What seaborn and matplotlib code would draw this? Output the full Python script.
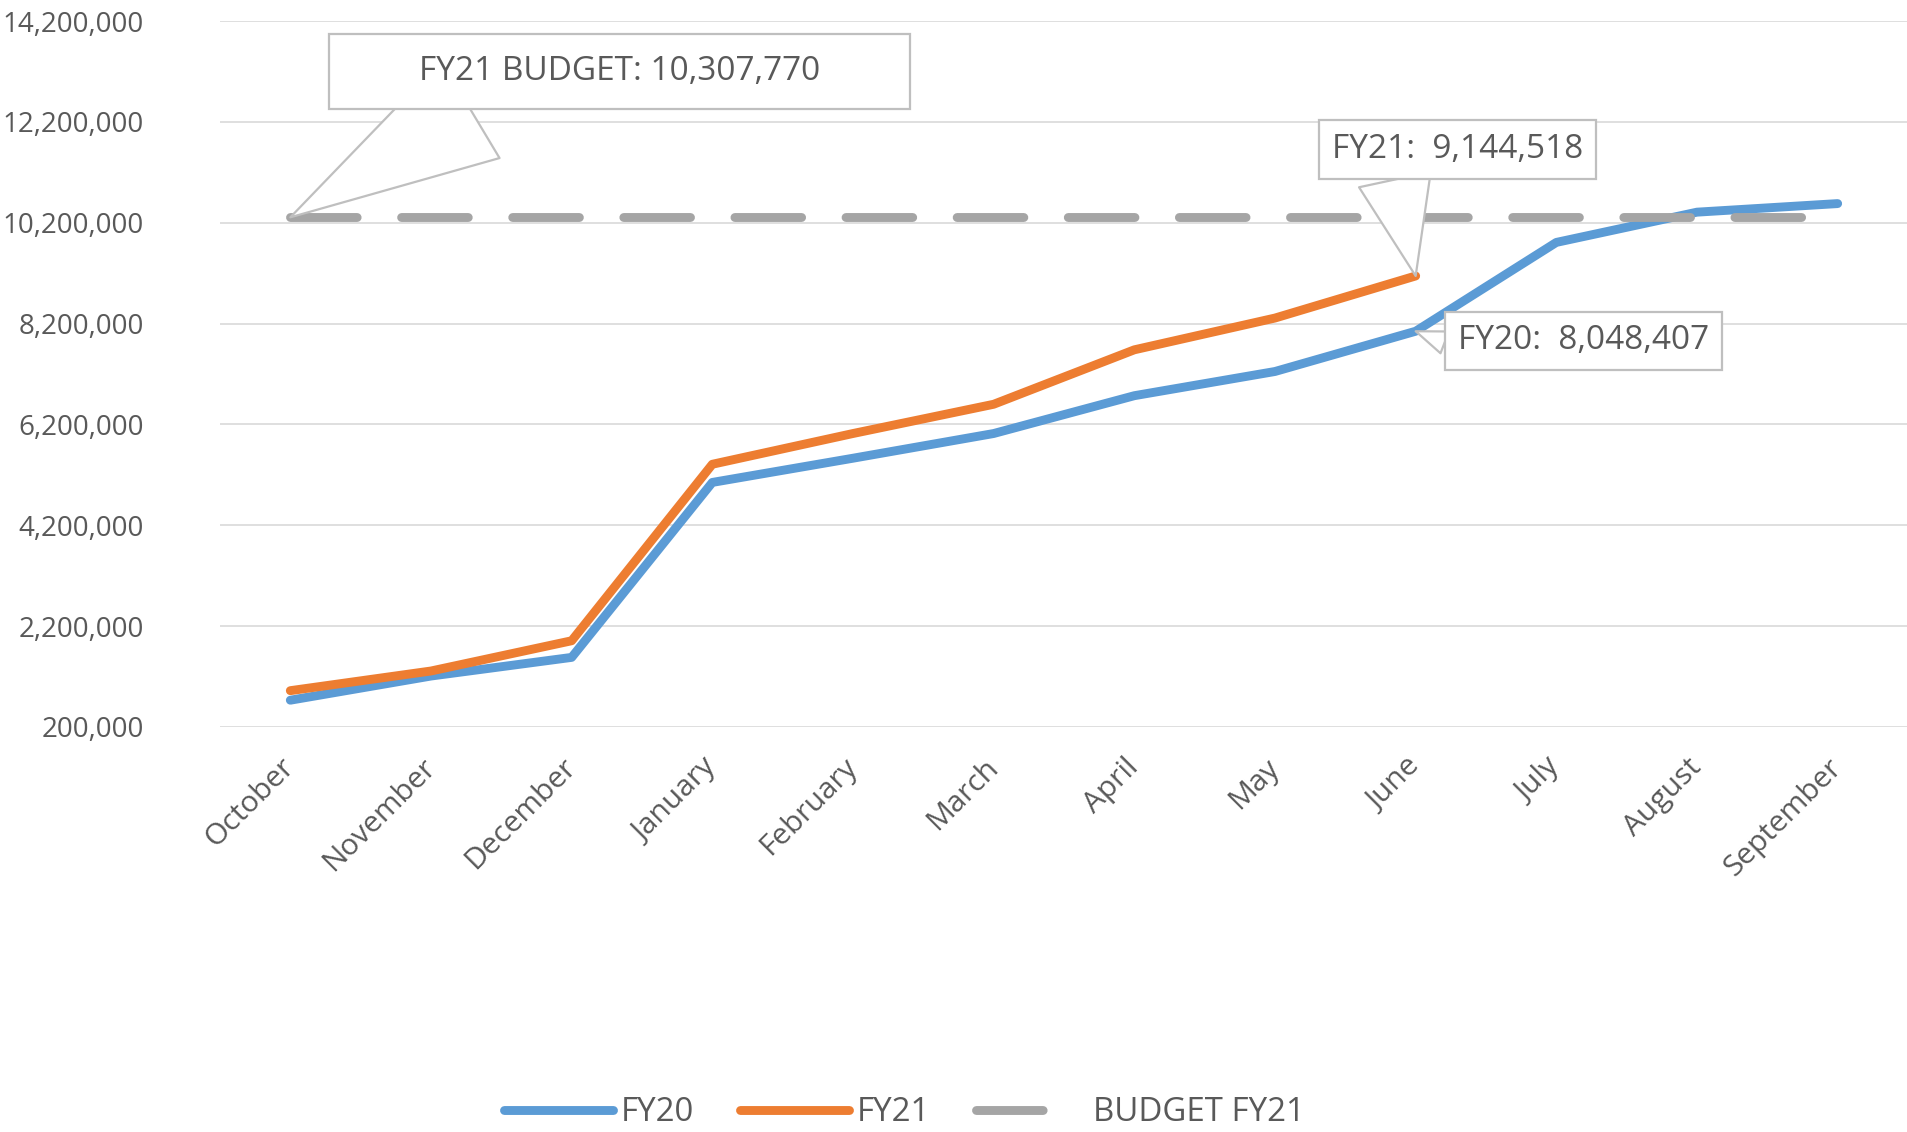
import pandas as pd
import matplotlib.pyplot as plt
import seaborn as sns

months = ['October', 'November', 'December', 'January', 'February', 'March',
          'April', 'May', 'June', 'July', 'August', 'September']
fy20 = [731000, 1210000, 1580000, 5050000, 5530000, 6020000,
        6770000, 7250000, 8048407, 9810000, 10410000, 10580000]
fy21 = [920000, 1310000, 1910000, 5410000, 6020000, 6600000,
        7680000, 8310000, 9144518]
budget_fy21 = 10307770
y_ticks = list(range(200000, 14200001, 2000000))

colors = {'FY20': '#5b9bd5', 'FY21': '#ed7d31', 'BUDGET FY21': '#a5a5a5'}
text_color = '#595959'
edge_color = '#bfbfbf'

df = pd.concat([
    pd.DataFrame({'month': months, 'value': fy20, 'series': 'FY20'}),
    pd.DataFrame({'month': months[:len(fy21)], 'value': fy21, 'series': 'FY21'}),
    pd.DataFrame({'month': months, 'value': [budget_fy21] * len(months),
                  'series': 'BUDGET FY21'}),
], ignore_index=True)

sns.set_style('white')
plt.rcParams['font.family'] = ['Open Sans', 'DejaVu Sans']

fig = plt.figure(figsize=(19.08, 11.32), dpi=100)
ax = fig.add_axes([0.1153, 0.3578, 0.8847, 0.6236])

for name in ['FY20', 'FY21', 'BUDGET FY21']:
    sns.lineplot(data=df[df['series'] == name], x='month', y='value',
                 color=colors[name], lw=6.4, label=name, ax=ax,
                 solid_capstyle='round', dash_capstyle='round')
ax.lines[-1].set_dashes([7.5, 5.0])
if ax.get_legend() is not None:
    ax.get_legend().remove()

ax.set_axisbelow(True)
ax.yaxis.grid(True, color='#d9d9d9', lw=1.2)
ax.set_xlim(-0.5, len(months) - 0.5)
ax.set_ylim(y_ticks[0], y_ticks[-1])
ax.set_yticks(y_ticks)
ax.set_yticklabels([f'{v:,}' for v in y_ticks])
ax.set_xlabel('')
ax.set_ylabel('')
sns.despine(ax=ax, left=True, bottom=True)
ax.tick_params(axis='both', length=0, labelsize=20, labelcolor=text_color)
ax.tick_params(axis='y', pad=55)
ax.tick_params(axis='x', pad=26, labelsize=21.5)
for lbl in ax.get_xticklabels():
    lbl.set_rotation(45)
    lbl.set_ha('right')
    lbl.set_va('center')
    lbl.set_rotation_mode('anchor')

# callout labels
box = dict(boxstyle='square,pad=0.38', fc='white', ec=edge_color, lw=1.6)
pad = ' ' * 8
ax.annotate(f'{pad}FY21 BUDGET: {budget_fy21:,}{pad}', xy=(0, budget_fy21),
            xytext=(237, 105), textcoords='offset points', ha='center', va='center',
            fontsize=24, color=text_color,
            bbox=dict(boxstyle='square,pad=0.62', fc='white', ec=edge_color, lw=1.6),
            arrowprops=dict(arrowstyle='wedge,tail_width=3.4', fc='white', ec=edge_color,
                            lw=1.6, relpos=(0.29, 0), shrinkA=0, shrinkB=0))
ax.annotate(f'FY21:  {fy21[-1]:,}', xy=(len(fy21) - 1, fy21[-1]),
            xytext=(30, 91), textcoords='offset points', ha='center', va='center',
            fontsize=24, color=text_color, bbox=box,
            arrowprops=dict(arrowstyle='wedge,tail_width=2.2', fc='white', ec=edge_color,
                            lw=1.6, relpos=(0.24, 0), shrinkA=0, shrinkB=0))
ax.annotate(f'FY20:  {fy20[8]:,}', xy=(8, fy20[8]),
            xytext=(121, -7), textcoords='offset points', ha='center', va='center',
            fontsize=24, color=text_color, bbox=box,
            arrowprops=dict(arrowstyle='wedge,tail_width=0.7', fc='white', ec=edge_color,
                            lw=1.6, relpos=(0, 0.3), shrinkA=0, shrinkB=0))

handles, labels = ax.get_legend_handles_labels()
fig.legend(handles, labels, loc='center', bbox_to_anchor=(0.474, 0.017), ncol=3,
           frameon=False, handlelength=3.3, handletextpad=0.22, columnspacing=1.4,
           prop={'family': ['Open Sans', 'DejaVu Sans'], 'size': 23.8},
           labelcolor=text_color)

fig.savefig('out.png', dpi=100)
